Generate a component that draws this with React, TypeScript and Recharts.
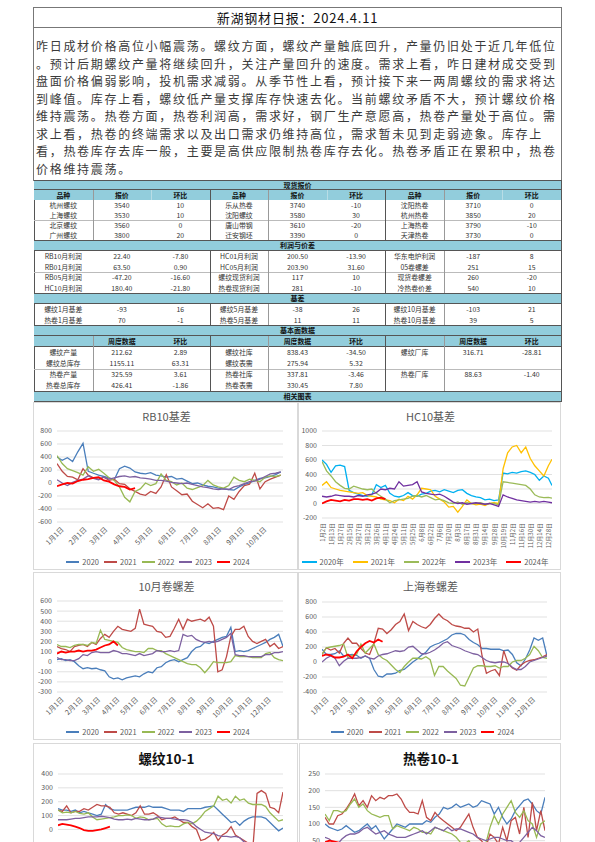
import React from "react";
import { LineChart, Line, XAxis, YAxis, CartesianGrid, Legend } from "recharts";

const FONT = '"Noto Sans CJK SC", "Noto Sans", sans-serif';
const BAND = "#92CDDC";
const GRAY = "#595959";

// ---------- report text ----------
const reportTitle = "新湖钢材日报：2024.4.11";
const introLines = [
  "咋日成材价格高位小幅震荡。螺纹方面，螺纹产量触底回升，产量仍旧处于近几年低位",
  "。预计后期螺纹产量将继续回升，关注产量回升的速度。需求上看，咋日建材成交受到",
  "盘面价格偏弱影响，投机需求减弱。从季节性上看，预计接下来一两周螺纹的需求将达",
  "到峰值。库存上看，螺纹低产量支撑库存快速去化。当前螺纹矛盾不大，预计螺纹价格",
  "维持震荡。热卷方面，热卷利润高，需求好，钢厂生产意愿高，热卷产量处于高位。需",
  "求上看，热卷的终端需求以及出口需求仍维持高位，需求暂未见到走弱迹象。库存上",
  "看，热卷库存去库一般，主要是高供应限制热卷库存去化。热卷矛盾正在累积中，热卷",
  "价格维持震荡。",
];

// ---------- tables ----------
const spotHead = ["品种", "报价", "环比", "品种", "报价", "环比", "品种", "报价", "环比"];
const spotRows = [
  ["杭州螺纹", "3540", "10", "乐从热卷", "3740", "-10", "沈阳热卷", "3710", "0"],
  ["上海螺纹", "3530", "10", "沈阳螺纹", "3580", "30", "杭州热卷", "3850", "20"],
  ["北京螺纹", "3560", "0", "唐山带钢", "3610", "-20", "上海热卷", "3790", "-10"],
  ["广州螺纹", "3800", "20", "迁安钢坯", "3390", "0", "天津热卷", "3730", "0"],
];
const profitRows = [
  ["RB10月利润", "22.40", "-7.80", "HC01月利润", "200.50", "-13.90", "华东电炉利润", "-187", "8"],
  ["RB01月利润", "63.50", "0.90", "HC05月利润", "203.90", "31.60", "05卷螺差", "251", "15"],
  ["RB05月利润", "-47.20", "-16.60", "螺纹现货利润", "117", "10", "现货卷螺差", "260", "-20"],
  ["HC10月利润", "180.40", "-21.80", "热卷现货利润", "281", "-10", "冷热卷价差", "540", "10"],
];
const basisRows = [
  ["螺纹1月基差", "-93", "16", "螺纹5月基差", "-38", "26", "螺纹10月基差", "-103", "21"],
  ["热卷1月基差", "70", "-1", "热卷5月基差", "11", "11", "热卷10月基差", "39", "5"],
];
const fundHead = ["", "周度数据", "环比", "", "周度数据", "环比", "", "周度数据", "环比"];
const fundRows = [
  ["螺纹产量", "212.62", "2.89", "螺纹社库", "838.43", "-34.50", "螺纹厂库", "316.71", "-28.81"],
  ["螺纹总库存", "1155.11", "63.31", "螺纹表需", "275.94", "5.32", "", "", ""],
  ["热卷产量", "325.59", "3.61", "热卷社库", "337.81", "-3.46", "热卷厂库", "88.63", "-1.40"],
  ["热卷总库存", "426.41", "-1.86", "热卷表需", "330.45", "7.80", "", "", ""],
];

// ---------- chart data ----------
const monthTicks = [1, 32, 60, 91, 121, 152, 182, 213, 244, 274, 305, 335];
const monthLabels = ["1月1日", "2月1日", "3月1日", "4月1日", "5月1日", "6月1日", "7月1日", "8月1日", "9月1日", "10月1日", "11月1日", "12月1日"];

const yearDays = [1, 8, 15, 22, 29, 36, 43, 50, 57, 64, 71, 78, 85, 92, 99, 106, 113, 120, 127, 134, 141, 148, 155, 162, 169, 176, 183, 190, 197, 204, 211, 218, 225, 232, 239, 246, 253, 260, 267, 274, 281, 288, 295, 302, 309, 316, 323, 330, 337, 344, 351, 358, 365];
const rbDays = [1, 8, 15, 22, 29, 36, 43, 50, 57, 64, 71, 78, 85, 92, 99, 106, 113, 120, 127, 134, 141, 148, 155, 162, 169, 176, 183, 190, 197, 204, 211, 218, 225, 232, 239, 246, 253, 260, 267, 274, 281, 288, 295, 302];

// RB10 basis
const rb2020 = [400, 350, 390, 330, 480, 610, 180, 150, 120, 100, 80, 50, 220, 260, 230, 170, 150, 140, 160, 120, 110, 90, 100, 60, 70, 30, -10, 0, -30, -50, -60, -80, -90, -100, -110, -60, -20, 0, 40, 70, 80, 100, 130, 170];
const rb2021 = [300, 180, 100, 90, 50, 220, 120, 80, 60, 90, 40, 60, -10, -20, -90, -130, -170, -190, -130, -160, -60, 130, -60, -120, -180, -170, -280, -330, -380, -320, -390, -380, -410, -200, -250, -130, -40, -20, 150, -90, 20, 60, 90, 120];
const rb2022 = [420, 300, 220, 190, 160, 120, 250, 180, 210, 150, 80, 40, -60, -220, -290, -130, -90, 0, -40, -10, 140, 40, 20, -30, 0, -80, -100, -70, -40, 40, -30, -60, -80, -40, 90, 40, 20, 60, 40, 20, 90, 110, 100, 120];
const rb2023 = [50, 0, -40, 10, 40, 60, 110, 70, 50, 90, 60, 80, 100, 110, 90, 100, 80, 70, 60, 40, 40, 30, 10, 0, -10, 0, -20, -40, -60, -70, -90, -100, -90, -100, -60, -40, -10, 20, 30, 60, 100, 140, 150, 170];
const rb2024 = [-50, -20, 0, -10, 30, 50, 60, 80, 90, 40, 20, -20, -50, -60, -100, -80];

// HC10 basis (trading-day index)
const hcIdx = [0, 5, 10, 15, 20, 25, 30, 35, 40, 45, 50, 55, 60, 65, 70, 75, 80, 85, 90, 95, 100, 105, 110, 115, 120, 125, 130, 135, 140, 145, 150, 155, 160, 165, 170, 175, 180, 185, 190, 195, 200, 205, 210, 215, 220, 225, 230, 235, 240, 245, 250, 254];
const hcTickIdx = [0, 10, 20, 30, 40, 50, 60, 70, 80, 90, 100, 110, 120, 130, 140, 150, 160, 170, 180, 190, 200, 210, 220, 230, 240, 250];
const hcTickLabels = ["1月2日", "1月13日", "1月27日", "2月15日", "2月27日", "3月12日", "3月26日", "4月11日", "4月24日", "5月11日", "5月25日", "6月8日", "6月22日", "7月6日", "7月20日", "8月3日", "8月17日", "8月31日", "9月14日", "9月28日", "10月19日", "11月2日", "11月16日", "11月30日", "12月14日", "12月28日"];
const hc2020 = [600, 540, 430, 520, 530, 510, 180, 150, 130, 110, 100, 120, 260, 220, 250, 140, 100, 90, 110, 150, 110, 100, 130, 140, 170, 180, 160, 190, 170, 150, 180, 190, 140, 110, 90, 80, 50, 60, 40, 50, 420, 410, 430, 420, 440, 450, 430, 400, 320, 380, 350, 250];
const hc2021 = [250, 300, 220, 200, 180, 170, 160, 150, 140, 150, 110, 100, 90, 60, 50, 40, 10, 60, 40, 100, 60, 120, 210, 200, 190, 100, 60, 20, -50, -40, -120, -40, 50, 0, -20, -10, -30, 0, 10, 0, 480, 700, 780, 800, 700, 780, 620, 520, 450, 380, 520, 610];
const hc2022 = [580, 450, 380, 300, 250, 210, 200, 240, 220, 200, 190, 200, 140, 100, 60, 10, 40, 50, 60, 70, 100, 110, 90, 110, 80, 50, 60, 40, 10, 0, 20, -10, 10, 0, 0, 10, -10, 0, 0, -20, 300, 290, 280, 270, 260, 250, 200, 120, 90, 80, 85, 75];
const hc2023 = [100, 90, 100, 120, 110, 100, 100, 90, 110, 100, 120, 130, 150, 200, 190, 210, 200, 300, 240, 250, 260, 300, 160, 140, 130, 120, 130, 100, 60, 20, 0, 10, -10, 0, 10, 0, -10, 0, -20, -40, 120, 90, 70, 50, 40, 30, 20, 30, 20, 30, 20, 10];
const hc2024 = [0, 30, 50, 40, 30, 50, 40, 60, 60, 50, 60, 40, 70, 80, 60];

// 10月卷螺差
const cs2020 = [20, 30, 10, 20, 0, -40, -70, -60, -70, -65, -80, -90, -150, -170, -160, -180, -160, -150, -140, -150, -120, -100, -110, -60, -50, -10, 10, 20, 0, 20, 40, 100, 140, 150, 190, 180, 200, 220, 240, 250, 340, 100, 110, 100, 110, 130, 150, 170, 190, 220, 240, 270, 150];
const cs2021 = [150, 130, 120, 100, 150, 160, 170, 150, 190, 170, 230, 270, 240, 300, 350, 320, 310, 300, 330, 520, 370, 360, 350, 300, 290, 240, 250, 330, 420, 320, 420, 400, 410, 420, 400, 440, 350, -100, -80, 50, 250, 320, 320, 350, 250, 200, 180, 200, 220, 150, 180, 130, 150];
const cs2022 = [170, 150, 150, 140, 160, 170, 170, 160, 190, 180, 310, 220, 210, 200, 190, 140, 120, 110, 100, 100, 90, 130, 130, 110, 110, 80, 60, 40, 20, 0, -20, -30, -30, -60, -110, -60, 0, -10, -10, -10, 0, 60, 50, 50, 50, 40, 40, 40, 80, 90, 40, 20, 10];
const cs2023 = [40, 20, 20, 10, 10, 30, 70, 60, 90, 100, 90, 90, 90, 110, 100, 80, 80, 70, 60, 80, 60, 70, 80, 110, 100, 100, 110, 100, 110, 270, 250, 260, 220, 200, 190, 200, 190, 200, 220, 240, 280, 70, 60, 60, 50, 50, 50, 50, 70, 70, 90, 90, 100];
const cs2024 = [80, 100, 90, 100, 100, 110, 100, 110, 110, 120, 140, 160, 170, 200, 160];

// 上海卷螺差
const sh2020 = [170, 100, 100, 110, 150, 80, 90, 100, 90, 50, 80, 50, -100, -190, -200, -160, -160, -150, -110, -100, -50, 0, 40, 90, 130, 200, 230, 250, 280, 310, 360, 380, 380, 360, 300, 260, 230, 180, 180, 170, 170, 170, 150, 160, 100, -10, -50, 40, 160, 320, 290, 320, 80];
const sh2021 = [100, 190, 160, 180, 120, 250, 320, 250, 250, 180, 120, 100, 250, 450, 440, 380, 430, 500, 540, 640, 420, 540, 500, 470, 450, 500, 580, 640, 580, 550, 500, 480, 470, 450, 450, 400, 440, 80, -150, -120, -100, -180, 150, -20, -80, -110, -40, 0, 20, 30, 50, 70, 100];
const sh2022 = [100, 190, 200, 210, 220, 240, 60, 90, 100, 240, 120, 180, 240, 100, 50, 20, -40, -100, -140, -60, 0, 50, 50, 40, 70, 30, -180, -60, -60, -120, -170, -220, -310, -320, -200, -80, -50, -50, -60, -60, -50, -80, -60, -60, 0, 20, 20, 50, 100, 210, 150, 60, 50];
const sh2023 = [0, 50, 80, 50, -50, 10, 50, 50, 50, 60, 80, 50, 40, 80, 100, 110, 130, 150, 140, 150, 200, 210, 160, 110, 110, 130, 160, 200, 250, 270, 220, 200, 180, 150, 130, 110, 100, 60, 20, 0, -10, 0, 0, -20, -70, -100, -100, -60, 0, 20, 40, 60, 80];
const sh2024 = [80, 100, 90, 60, 60, 70, 100, 50, 140, 200, 250, 280, 260, 300, 270];

// 10-1 spreads (trading-day index)
const tdIdx = [0, 5, 10, 15, 20, 25, 30, 35, 40, 45, 50, 55, 60, 65, 70, 75, 80, 85, 90, 95, 100, 105, 110, 115, 120, 125, 130, 135, 140, 145, 150, 155, 160, 165, 170, 175, 180, 185, 190, 195, 200, 205, 210, 215, 220, 225, 230, 235, 240, 245, 250, 255, 260];
const rs2020 = [150, 140, 140, 130, 140, 120, 130, 120, 110, 100, 110, 180, 150, 140, 140, 140, 140, 150, 160, 160, 160, 170, 160, 160, 160, 150, 140, 140, 140, 130, 150, 150, 150, 150, 160, 165, 170, 140, 110, 80, 50, 60, 30, 60, 80, 90, 90, 90, 80, 50, 20, -10, 10];
const rs2021 = [140, 130, 170, 120, 130, 130, 150, 140, 160, 180, 170, 170, 160, 120, 110, 120, 110, 100, 120, 170, 110, 110, 120, 100, 70, 80, 80, 90, 70, 50, 50, 20, 0, -80, -70, -50, -20, -80, -40, -20, 20, -40, -60, -80, -100, -150, 260, 280, 260, 160, 150, 120, 270];
const rs2022 = [140, 120, 125, 120, 130, 115, 110, 120, 90, 70, 75, 80, 85, 90, 100, 100, 105, 100, 80, 90, 85, 70, 75, 80, 40, 20, 25, 20, 20, 40, 50, 40, 60, 90, 130, 150, 170, 240, 210, 220, 190, 240, 210, 220, 190, 180, 180, 180, 165, 120, 90, 60, 70];
const rs2023 = [70, 70, 70, 75, 80, 80, 85, 90, 90, 90, 95, 90, 85, 75, 70, 70, 75, 70, 80, 75, 70, 70, 75, 90, 85, 80, 80, 75, 70, 70, 65, 50, 20, 0, -20, -25, -30, -45, -50, -50, -55, -50, -60, -90, -100, -110, -115, -120, -135, -140, -130, -120, -110];
const rs2024 = [30, 40, 35, 30, 20, 10, -5, -10, -10, -5, 0, 10, 20];

const hs2020 = [100, 90, 85, 80, 85, 95, 85, 75, 80, 90, 100, 85, 95, 75, 55, 70, 85, 100, 95, 90, 100, 100, 100, 100, 110, 105, 120, 130, 150, 145, 150, 160, 150, 155, 160, 150, 155, 170, 165, 160, 130, 150, 120, 100, 115, 140, 155, 170, 175, 160, 140, 130, 180];
const hs2021 = [120, 100, 100, 125, 130, 145, 165, 190, 155, 170, 150, 185, 170, 180, 175, 185, 185, 190, 175, 150, 135, 135, 130, 170, 120, 110, 135, 120, 110, 100, 90, 80, 90, 110, 130, 90, 60, 50, 30, 70, 60, 40, 90, 50, 110, 120, 70, 150, 60, 165, 80, 140, 80];
const hs2022 = [130, 110, 140, 140, 135, 140, 160, 175, 150, 160, 140, 130, 125, 120, 125, 125, 85, 95, 90, 85, 80, 90, 85, 75, 75, 70, 90, 85, 80, 75, 70, 60, 45, 40, 50, 30, 25, 20, 40, 90, 125, 100, 130, 150, 170, 135, 120, 140, 110, 100, 60, 100, 110];
const hs2023 = [60, 55, 45, 40, 55, 65, 70, 70, 75, 85, 90, 80, 70, 75, 80, 70, 65, 60, 60, 60, 65, 70, 75, 80, 70, 80, 90, 85, 80, 90, 80, 85, 85, 80, 75, 70, 60, 55, 50, 55, 60, 60, 55, 50, 50, 40, 45, 60, 75, 90, 80, 65, 60];
const hs2024 = [45, 50, 48, 45, 40, 35, 38, 32, 30, 30, 25, 28, 22];

const yearNames = ["2020", "2021", "2022", "2023", "2024"];
const officeColors = ["#4A7EBB", "#BE4B48", "#98B954", "#7D60A0", "#FF0000"];
const hcColors = ["#00B0F0", "#FFC000", "#9BBB59", "#7030A0", "#FF0000"];

function buildRows(xs: number[], cols: (number | null)[][]) {
  return xs.map((x, i) => {
    const r: any = { x };
    cols.forEach((c, j) => {
      r["y" + j] = c[i] ?? null;
    });
    return r;
  });
}

const rbData = buildRows(rbDays, [rb2020, rb2021, rb2022, rb2023, rb2024]);
const hcData = buildRows(hcIdx, [hc2020, hc2021, hc2022, hc2023, hc2024]);
const csData = buildRows(yearDays, [cs2020, cs2021, cs2022, cs2023, cs2024]);
const shData = buildRows(yearDays, [sh2020, sh2021, sh2022, sh2023, sh2024]);
const rsData = buildRows(tdIdx, [rs2020, rs2021, rs2022, rs2023, rs2024]);
const hsData = buildRows(tdIdx, [hs2020, hs2021, hs2022, hs2023, hs2024]);

const monthFmt = (v: number) => monthLabels[monthTicks.indexOf(v)] ?? "";
const hcFmt = (v: number) => hcTickLabels[hcTickIdx.indexOf(v)] ?? "";

const AngleTick = (props: any) => {
  const { x, y, payload, fmt, angle, dx = 0, dy = 0, size = 7 } = props;
  return (
    <g transform={`translate(${x + dx},${y + dy})`}>
      <text
        transform={`rotate(${angle})`}
        textAnchor="end"
        dominantBaseline="central"
        fontSize={size}
        fill={GRAY}
        fontFamily={FONT}
      >
        {fmt(payload.value)}
      </text>
    </g>
  );
};

const LegendRow = (props: any) => {
  const items = props.payload || [];
  return (
    <div
      style={{
        display: "flex",
        justifyContent: "center",
        gap: props.gap ?? 5,
        fontSize: 7.5,
        lineHeight: "12px",
        color: GRAY,
        fontFamily: FONT,
      }}
    >
      {items.map((it: any) => (
        <span key={it.value} style={{ display: "inline-flex", alignItems: "center" }}>
          <svg width={props.iconW ?? 13} height={4} style={{ marginRight: 3 }}>
            <line x1={0} y1={2} x2={props.iconW ?? 13} y2={2} stroke={it.color} strokeWidth={2} />
          </svg>
          {it.value}
        </span>
      ))}
    </div>
  );
};

type ChartProps = {
  left: number;
  top: number;
  width: number;
  height: number;
  title: string;
  titleStyle: React.CSSProperties;
  data: any[];
  names: string[];
  colors: string[];
  xDomain: [number, number];
  xTicks: number[];
  tick: React.ReactElement | false;
  xHeight: number;
  yDomain: [number, number];
  yTicks: number[];
  yWidth: number;
  margin: { top: number; right: number; bottom: number };
  legend?: React.ReactElement;
};

const SeasonChart = (p: ChartProps) => (
  <div
    style={{
      position: "absolute",
      left: p.left,
      top: p.top,
      width: p.width,
      height: p.height,
      border: "1px solid #D9D9D9",
      boxSizing: "border-box",
      background: "#fff",
    }}
  >
    <div
      style={{
        position: "absolute",
        left: 0,
        width: p.width,
        textAlign: "center",
        fontFamily: FONT,
        whiteSpace: "nowrap",
        ...p.titleStyle,
      }}
    >
      {p.title}
    </div>
    <div style={{ position: "absolute", left: -1, top: -1 }}>
      <LineChart
        width={p.width}
        height={p.height}
        data={p.data}
        margin={{ top: p.margin.top, right: p.margin.right, bottom: p.margin.bottom, left: 0 }}
      >
        <CartesianGrid vertical={false} stroke="#D9D9D9" strokeWidth={0.8} />
        <XAxis
          dataKey="x"
          type="number"
          domain={p.xDomain}
          ticks={p.xTicks}
          interval={0}
          allowDataOverflow
          axisLine={false}
          tickLine={false}
          height={p.xHeight}
          tick={p.tick}
        />
        <YAxis
          domain={p.yDomain}
          ticks={p.yTicks}
          interval={0}
          allowDataOverflow
          width={p.yWidth}
          axisLine={false}
          tickLine={false}
          tickSize={3}
          tick={{ fontSize: 7, fill: GRAY, fontFamily: FONT }}
        />
        {p.legend && <Legend verticalAlign="bottom" height={12} content={p.legend} />}
        {p.names.map((n, i) => (
          <Line
            key={n}
            dataKey={"y" + i}
            name={n}
            type="linear"
            stroke={p.colors[i]}
            strokeWidth={i === 4 ? 1.8 : 1.3}
            dot={false}
            activeDot={false}
            isAnimationActive={false}
          />
        ))}
      </LineChart>
    </div>
  </div>
);

// ---------- table helpers ----------
const TX = 34;
const TW = 527;
const CW = TW / 9;

const Band = ({ top, h, text }: { top: number; h: number; text: string }) => (
  <div
    style={{
      position: "absolute",
      left: TX,
      top,
      width: TW,
      height: h,
      background: BAND,
      borderTop: "1px solid #555",
      borderBottom: "1px solid #555",
      boxSizing: "border-box",
      fontSize: 7,
      fontWeight: 700,
      lineHeight: `${h - 2}px`,
      textAlign: "center",
      color: "#111",
    }}
  >
    {text}
  </div>
);

const Cells = ({ top, h, cells, bg, bold }: { top: number; h: number; cells: string[]; bg?: string; bold?: boolean }) => (
  <>
    {bg && <div style={{ position: "absolute", left: TX, top, width: TW, height: h, background: bg }} />}
    {cells.map((c, i) => (
      <div
        key={i}
        style={{
          position: "absolute",
          left: TX + i * CW,
          top,
          width: CW,
          height: h,
          lineHeight: `${h}px`,
          textAlign: "center",
          fontSize: 6.9,
          fontWeight: bold ? 700 : 400,
          color: bold ? "#111" : "#333",
          whiteSpace: "nowrap",
        }}
      >
        {c}
      </div>
    ))}
  </>
);

const VLines = ({ top, h, idx, color }: { top: number; h: number; idx: number[]; color: string }) => (
  <>
    {idx.map((i) => (
      <div key={i} style={{ position: "absolute", left: TX + i * CW, top, width: 1, height: h, background: color }} />
    ))}
  </>
);

const HLine = ({ top, color = "#999" }: { top: number; color?: string }) => (
  <div style={{ position: "absolute", left: TX, top, width: TW, height: 1, background: color }} />
);

const RowBlock = ({ top, h, rows }: { top: number; h: number; rows: string[][] }) => (
  <>
    {rows.map((r, i) => (
      <Cells key={i} top={top + i * h} h={h} cells={r} />
    ))}
  </>
);

const App = () => {
  const officeLegend = <LegendRow gap={5} iconW={13} />;
  const hcLegend = <LegendRow gap={9} iconW={15} />;
  const rotTick = <AngleTick fmt={monthFmt} angle={-45} dx={5} dy={-2} />;
  const titleGray: React.CSSProperties = { top: 6, fontSize: 11, color: GRAY, lineHeight: "14px" };
  const titleBold: React.CSSProperties = { top: 6, fontSize: 13.5, fontWeight: 700, color: "#111", lineHeight: "16px" };

  return (
    <div
      style={{
        position: "absolute",
        left: 0,
        top: 0,
        width: 595,
        height: 842,
        overflow: "hidden",
        background: "#fff",
        fontFamily: FONT,
      }}
    >
      {/* title + commentary frame */}
      <div
        style={{
          position: "absolute",
          left: 33,
          top: 7,
          width: 529,
          height: 174,
          border: "1px solid #777",
          boxSizing: "border-box",
        }}
      />
      <div style={{ position: "absolute", left: 33, top: 27, width: 529, height: 1, background: "#777" }} />
      <div
        style={{
          position: "absolute",
          left: 33,
          top: 8,
          width: 529,
          textAlign: "center",
          fontSize: 13,
          lineHeight: "19px",
          color: "#111",
          letterSpacing: 0.8,
        }}
      >
        {reportTitle}
      </div>
      {introLines.map((t, i) => (
        <div
          key={i}
          style={{
            position: "absolute",
            left: 36,
            top: 37 + i * 17.5,
            fontSize: 12,
            letterSpacing: 1.7,
            lineHeight: "17.5px",
            color: "#3a3a3a",
            whiteSpace: "nowrap",
          }}
        >
          {t}
        </div>
      ))}

      {/* tables */}
      <div style={{ position: "absolute", left: TX, top: 180, width: 1, height: 222, background: "#555" }} />
      <div style={{ position: "absolute", left: TX + TW, top: 180, width: 1, height: 222, background: "#555" }} />

      <Band top={180} h={10} text="现货报价" />
      <Cells top={190} h={10} cells={spotHead} bg={BAND} bold />
      <VLines top={190} h={10} idx={[2, 5, 8]} color="#B8DDE6" />
      <RowBlock top={200} h={10} rows={spotRows} />
      <HLine top={220} color="#BBB" />
      <VLines top={190} h={50} idx={[1, 4, 7]} color="#999" />
      <VLines top={190} h={50} idx={[3, 6]} color="#555" />

      <Band top={240} h={11} text="利润与价差" />
      <RowBlock top={251} h={10.5} rows={profitRows} />
      <HLine top={272} color="#BBB" />
      <VLines top={251} h={42} idx={[4, 7]} color="#999" />
      <VLines top={251} h={42} idx={[3, 6]} color="#555" />

      <Band top={293} h={11} text="基差" />
      <RowBlock top={304} h={10.5} rows={basisRows} />
      <VLines top={304} h={21} idx={[4, 7]} color="#999" />
      <VLines top={304} h={21} idx={[3, 6]} color="#555" />

      <Band top={325} h={11} text="基本面数据" />
      <Cells top={336} h={11} cells={fundHead} bg={BAND} bold />
      <HLine top={346} color="#555" />
      <RowBlock top={347} h={11} rows={fundRows} />
      <HLine top={369} color="#BBB" />
      <VLines top={336} h={55} idx={[1, 4, 7]} color="#999" />
      <VLines top={336} h={55} idx={[3, 6]} color="#555" />

      <Band top={391} h={11} text="相关图表" />

      {/* charts */}
      <SeasonChart
        left={33}
        top={402}
        width={265}
        height={168}
        title="RB10基差"
        titleStyle={titleGray}
        data={rbData}
        names={yearNames}
        colors={officeColors}
        xDomain={[1, 305]}
        xTicks={monthTicks.slice(0, 10)}
        tick={rotTick}
        xHeight={34}
        yDomain={[-600, 800]}
        yTicks={[-600, -400, -200, 0, 200, 400, 600, 800]}
        yWidth={24}
        margin={{ top: 29, right: 15, bottom: 2 }}
        legend={officeLegend}
      />
      <SeasonChart
        left={298}
        top={402}
        width={263}
        height={168}
        title="HC10基差"
        titleStyle={titleGray}
        data={hcData}
        names={yearNames.map((n) => n + "年")}
        colors={hcColors}
        xDomain={[0, 254]}
        xTicks={hcTickIdx}
        tick={<AngleTick fmt={hcFmt} angle={-90} dx={0} dy={-3} size={6} />}
        xHeight={38}
        yDomain={[-200, 1000]}
        yTicks={[-200, 0, 200, 400, 600, 800, 1000]}
        yWidth={24}
        margin={{ top: 29, right: 9, bottom: 2 }}
        legend={hcLegend}
      />
      <SeasonChart
        left={33}
        top={572}
        width={265}
        height={168}
        title="10月卷螺差"
        titleStyle={titleGray}
        data={csData}
        names={yearNames}
        colors={officeColors}
        xDomain={[1, 365]}
        xTicks={monthTicks}
        tick={rotTick}
        xHeight={34}
        yDomain={[-300, 600]}
        yTicks={[-300, -200, -100, 0, 100, 200, 300, 400, 500, 600]}
        yWidth={24}
        margin={{ top: 29, right: 15, bottom: 2 }}
        legend={officeLegend}
      />
      <SeasonChart
        left={298}
        top={572}
        width={263}
        height={168}
        title="上海卷螺差"
        titleStyle={titleGray}
        data={shData}
        names={yearNames}
        colors={officeColors}
        xDomain={[1, 365]}
        xTicks={monthTicks}
        tick={rotTick}
        xHeight={34}
        yDomain={[-400, 800]}
        yTicks={[-400, -200, 0, 200, 400, 600, 800]}
        yWidth={24}
        margin={{ top: 30, right: 14, bottom: 2 }}
        legend={officeLegend}
      />
      <SeasonChart
        left={33}
        top={743}
        width={265}
        height={190}
        title="螺纹10-1"
        titleStyle={titleBold}
        data={rsData}
        names={yearNames}
        colors={officeColors}
        xDomain={[0, 260]}
        xTicks={[]}
        tick={false}
        xHeight={30}
        yDomain={[-300, 400]}
        yTicks={[0, 100, 200, 300, 400]}
        yWidth={25}
        margin={{ top: 31, right: 15, bottom: 32 }}
      />
      <SeasonChart
        left={299}
        top={743}
        width={262}
        height={190}
        title="热卷10-1"
        titleStyle={titleBold}
        data={hsData}
        names={yearNames}
        colors={officeColors}
        xDomain={[0, 260]}
        xTicks={[]}
        tick={false}
        xHeight={30}
        yDomain={[-50, 250]}
        yTicks={[50, 100, 150, 200, 250]}
        yWidth={26}
        margin={{ top: 31, right: 16, bottom: 29 }}
      />
    </div>
  );
};

export default App;
